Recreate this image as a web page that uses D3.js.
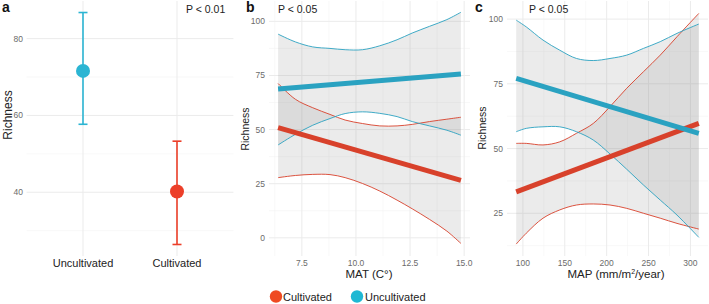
<!DOCTYPE html>
<html>
<head>
<meta charset="utf-8">
<script src="https://cdn.jsdelivr.net/npm/d3@7/dist/d3.min.js"></script>
<style>
  html, body { margin: 0; padding: 0; background: #fff; }
  svg { display: block; font-family: "Liberation Sans", Arial, Helvetica, sans-serif; }
</style>
</head>
<body>
<svg id="chart" width="709" height="304"></svg>
<script>
// ---------- DATA ----------
// Panel a
const categories = ["Uncultivated", "Cultivated"];
const meanRichness = [71.6, 40.2];
const ciLow = [57.7, 26.4];
const ciHigh = [86.8, 53.3];
const pTextA = "P < 0.01";

// Panel b (MAT)
const matX = [6.4, 7.2, 8.0, 8.8, 9.5, 10.3, 11.1, 11.9, 12.6, 13.4, 14.2, 14.85];
const matCultUpper = [71.3, 64.0, 60.1, 57.0, 54.4, 52.8, 51.7, 51.7, 52.4, 53.7, 54.8, 55.7];
const matCultLower = [27.8, 28.8, 29.3, 29.2, 27.8, 25.1, 21.6, 17.4, 13.4, 8.5, 3.1, -2.6];
const matUncUpper = [94.1, 90.5, 88.2, 87.5, 86.9, 86.9, 88.7, 91.5, 94.6, 97.7, 100.8, 104.2];
const matUncLower = [42.9, 47.8, 52.0, 55.1, 57.4, 58.2, 57.5, 56.0, 53.7, 51.7, 49.7, 47.4];
const matFitX = [6.4, 14.85];
const matCultFit = [50.9, 26.5];
const matUncFit = [68.7, 75.7];
const matTicks = [7.5, 10.0, 12.5, 15.0];
const pTextB = "P < 0.05";

// Panel c (MAP)
const mapX = [92, 104, 124, 144, 164, 184, 204, 224, 244, 264, 284, 310];
const mapCultUpper = [52.0, 52.0, 51.4, 52.6, 55.9, 59.7, 66.2, 73.3, 79.7, 86.1, 93.2, 102.2];
const mapCultLower = [13.1, 17.3, 23.1, 26.3, 28.2, 28.6, 28.2, 26.9, 25.0, 23.1, 21.1, 18.9];
const mapUncUpper = [99.6, 97.0, 91.9, 88.0, 84.8, 84.0, 84.8, 86.1, 88.7, 91.3, 94.5, 98.1];
const mapUncLower = [56.5, 57.8, 58.4, 58.4, 56.5, 53.3, 47.9, 42.0, 35.9, 30.1, 24.3, 15.7];
const mapFitX = [92, 310];
const mapCultFit = [33.3, 59.7];
const mapUncFit = [77.1, 55.9];
const mapTicks = [100, 150, 200, 250, 300];
const pTextC = "P < 0.05";

const legendLabels = ["Cultivated", "Uncultivated"];

// ---------- STYLE ----------
const COL = {
  cultPoint: "#ec3f29", uncPoint: "#2bb5d3",
  cultLine: "#d8412b", uncLine: "#2aa2c1",
  cultLegend: "#ef4a22", uncLegend: "#1eb8d3",
  major: "#ebebeb", minor: "#f3f3f3",
  tick: "#6b6b6b", text: "#222"
};
const TOP = 1, BOTTOM = 256;
const svg = d3.select("#chart");
svg.append("rect").attr("width", 709).attr("height", 304).attr("fill", "#fff");

function grid(g, x, y, xMaj, xMin, yMaj, yMin) {
  const [x0, x1] = x.range();
  yMin.forEach(v => g.append("line").attr("x1", x0).attr("x2", x1).attr("y1", y(v)).attr("y2", y(v))
    .attr("stroke", COL.minor).attr("stroke-width", 0.6));
  xMin.forEach(v => g.append("line").attr("y1", TOP).attr("y2", BOTTOM).attr("x1", x(v)).attr("x2", x(v))
    .attr("stroke", COL.minor).attr("stroke-width", 0.6));
  yMaj.forEach(v => g.append("line").attr("x1", x0).attr("x2", x1).attr("y1", y(v)).attr("y2", y(v))
    .attr("stroke", COL.major).attr("stroke-width", 1));
  xMaj.forEach(v => g.append("line").attr("y1", TOP).attr("y2", BOTTOM).attr("x1", x(v)).attr("x2", x(v))
    .attr("stroke", COL.major).attr("stroke-width", 1));
}
function yLabels(g, x, y, ticks, fmt) {
  const x0 = x.range()[0];
  ticks.forEach(v => g.append("text").attr("x", x0 - 4).attr("y", y(v) + 3)
    .attr("text-anchor", "end").attr("font-size", 8.5).attr("fill", COL.tick).text(fmt(v)));
}
function xLabels(g, x, ticks, fmt) {
  ticks.forEach(v => g.append("text").attr("x", x(v)).attr("y", 266)
    .attr("text-anchor", "middle").attr("font-size", 8.5).attr("fill", COL.tick).text(fmt(v)));
}
function yTitle(cx, cy, size) {
  svg.append("text").attr("transform", `translate(${cx},${cy}) rotate(-90)`)
    .attr("text-anchor", "middle").attr("dominant-baseline", "central")
    .attr("font-size", size).attr("fill", COL.text).text("Richness");
}
function panelLetter(x, t) {
  svg.append("text").attr("x", x).attr("y", 12).attr("font-size", 14).attr("font-weight", "bold")
    .attr("fill", "#111").text(t);
}
function pLabel(x, t) {
  svg.append("text").attr("x", x).attr("y", 13).attr("font-size", 10.5).attr("fill", COL.text).text(t);
}

// ---------- PANEL A ----------
{
  const g = svg.append("g");
  const x = d3.scalePoint().domain(categories).range([26.6, 233.4]).padding(0.6);
  const y = d3.scaleLinear().domain([23.4, 89.8]).range([BOTTOM, TOP]);
  [30, 50, 70].forEach(v => g.append("line").attr("x1", 26.6).attr("x2", 233.4).attr("y1", y(v)).attr("y2", y(v))
    .attr("stroke", COL.minor).attr("stroke-width", 0.6));
  [40, 60, 80].forEach(v => g.append("line").attr("x1", 26.6).attr("x2", 233.4).attr("y1", y(v)).attr("y2", y(v))
    .attr("stroke", COL.major).attr("stroke-width", 1));
  categories.forEach(c => g.append("line").attr("x1", x(c)).attr("x2", x(c)).attr("y1", TOP).attr("y2", BOTTOM)
    .attr("stroke", COL.major).attr("stroke-width", 1));
  [40, 60, 80].forEach(v => g.append("text").attr("x", 23).attr("y", y(v) + 3)
    .attr("text-anchor", "end").attr("font-size", 8.5).attr("fill", COL.tick).text(v));
  const cols = [COL.uncPoint, COL.cultPoint];
  categories.forEach((c, i) => {
    const cx = x(c);
    g.append("line").attr("x1", cx).attr("x2", cx).attr("y1", y(ciLow[i])).attr("y2", y(ciHigh[i]))
      .attr("stroke", cols[i]).attr("stroke-width", 1.6);
    [ciLow[i], ciHigh[i]].forEach(v => g.append("line").attr("x1", cx - 4.5).attr("x2", cx + 4.5)
      .attr("y1", y(v)).attr("y2", y(v)).attr("stroke", cols[i]).attr("stroke-width", 1.6));
    g.append("circle").attr("cx", cx).attr("cy", y(meanRichness[i])).attr("r", 7).attr("fill", cols[i]);
    g.append("text").attr("x", cx).attr("y", 267).attr("text-anchor", "middle")
      .attr("font-size", 11).attr("fill", COL.text).text(c);
  });
  yTitle(8, 115, 12);
  panelLetter(2, "a");
  pLabel(186, pTextA);
}

// ---------- generic smooth panel ----------
function smoothPanel(cfg) {
  const g = svg.append("g");
  const x = d3.scaleLinear().domain(cfg.xDomain).range(cfg.xRange);
  const y = d3.scaleLinear().domain(cfg.yDomain).range([BOTTOM, TOP]);
  grid(g, x, y, cfg.xMaj, cfg.xMin, cfg.yMaj, cfg.yMin);
  yLabels(g, x, y, cfg.yMaj, d => d);
  xLabels(g, x, cfg.xMaj, cfg.xFmt);
  const curve = d3.curveCatmullRom.alpha(0.5);
  const area = (lo, hi) => d3.area().curve(curve)
    .x((d, i) => x(cfg.xs[i])).y0((d, i) => y(lo[i])).y1((d, i) => y(hi[i]))(cfg.xs);
  const line = (vals, xs) => d3.line().curve(curve).x((d, i) => x(xs[i])).y(d => y(d))(vals);
  g.append("path").attr("d", area(cfg.cultLower, cfg.cultUpper)).attr("fill", "#999").attr("fill-opacity", 0.2);
  g.append("path").attr("d", area(cfg.uncLower, cfg.uncUpper)).attr("fill", "#999").attr("fill-opacity", 0.2);
  [[cfg.cultUpper, COL.cultLine], [cfg.cultLower, COL.cultLine], [cfg.uncUpper, COL.uncLine], [cfg.uncLower, COL.uncLine]]
    .forEach(([vals, c]) => g.append("path").attr("d", line(vals, cfg.xs)).attr("fill", "none")
      .attr("stroke", c).attr("stroke-width", 0.9));
  g.append("path").attr("d", line(cfg.cultFit, cfg.fitX)).attr("fill", "none")
    .attr("stroke", COL.cultLine).attr("stroke-width", 5);
  g.append("path").attr("d", line(cfg.uncFit, cfg.fitX)).attr("fill", "none")
    .attr("stroke", COL.uncLine).attr("stroke-width", 5);
  return { x, y };
}

// ---------- PANEL B ----------
smoothPanel({
  xDomain: [5.98, 15.27], xRange: [269, 470], yDomain: [-8.4, 109.4],
  xMaj: matTicks, xMin: [6.25, 8.75, 11.25, 13.75],
  yMaj: [0, 25, 50, 75, 100], yMin: [12.5, 37.5, 62.5, 87.5],
  xFmt: d => d.toFixed(1),
  xs: matX, cultUpper: matCultUpper, cultLower: matCultLower, uncUpper: matUncUpper, uncLower: matUncLower,
  fitX: matFitX, cultFit: matCultFit, uncFit: matUncFit
});
yTitle(245, 129, 10.5);
panelLetter(246, "b");
pLabel(278, pTextB);
svg.append("text").attr("x", 369).attr("y", 278).attr("text-anchor", "middle")
  .attr("font-size", 11.5).attr("fill", COL.text).text("MAT (C°)");

// ---------- PANEL C ----------
smoothPanel({
  xDomain: [81, 321], xRange: [507, 708], yDomain: [8.5, 107],
  xMaj: mapTicks, xMin: [125, 175, 225, 275],
  yMaj: [25, 50, 75, 100], yMin: [12.5, 37.5, 62.5, 87.5],
  xFmt: d => d,
  xs: mapX, cultUpper: mapCultUpper, cultLower: mapCultLower, uncUpper: mapUncUpper, uncLower: mapUncLower,
  fitX: mapFitX, cultFit: mapCultFit, uncFit: mapUncFit
});
yTitle(481.5, 128, 10.5);
panelLetter(475, "c");
pLabel(529, pTextC);
{
  const t = svg.append("text").attr("x", 616).attr("y", 278).attr("text-anchor", "middle")
    .attr("font-size", 11.5).attr("fill", COL.text);
  t.append("tspan").text("MAP (mm/m");
  t.append("tspan").attr("font-size", 7).attr("dy", -4).text("2");
  t.append("tspan").attr("dy", 4).text("/year)");
}

// ---------- LEGEND ----------
{
  const items = [{ label: legendLabels[0], c: COL.cultLegend, cx: 276, tx: 283 },
                 { label: legendLabels[1], c: COL.uncLegend, cx: 357, tx: 365 }];
  items.forEach(it => {
    svg.append("circle").attr("cx", it.cx).attr("cy", 296.5).attr("r", 6.2).attr("fill", it.c);
    svg.append("text").attr("x", it.tx).attr("y", 300.5).attr("font-size", 11).attr("fill", COL.text).text(it.label);
  });
}
</script>
</body>
</html>
